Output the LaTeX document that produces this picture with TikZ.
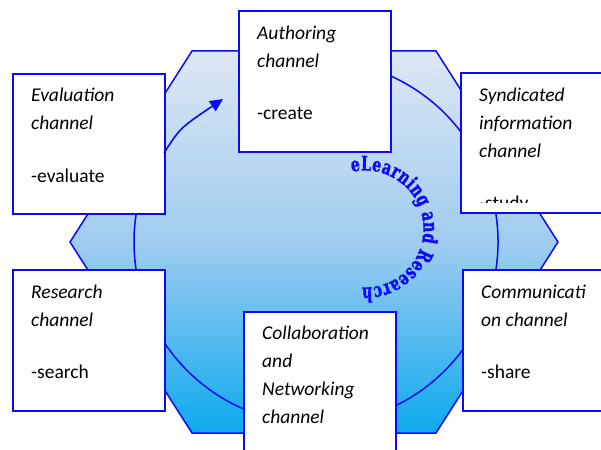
\documentclass[tikz,border=0pt]{standalone}
\usepackage{fontspec}
\setmainfont{Carlito}
\newfontfamily\ringfont{DejaVu Serif}[FakeStretch=0.7, BoldFeatures={FakeBold=1.5}]
\usetikzlibrary{arrows.meta,decorations.text}
\definecolor{hexTop}{RGB}{221,231,243}
\definecolor{hexMid}{RGB}{160,204,240}
\definecolor{hexBot}{RGB}{12,170,238}
\definecolor{edge}{RGB}{10,10,250}
\tikzset{
  chanbox/.style={draw=edge, line width=1.6pt, fill=white, rectangle, inner sep=0pt,
    minimum width=152pt, minimum height=141pt, anchor=north west},
  chantext/.style={anchor=north west, inner sep=0pt, align=left,
    font=\fontsize{19.5}{28}\selectfont},
  ring/.style={draw=edge, line width=1.5pt},
}
\begin{document}
\begin{tikzpicture}[x=1pt,y=1pt]
\useasboundingbox (0,0) rectangle (601,449);
\clip (0,0) rectangle (601,449);

% shaded hexagon backdrop
\path[draw=edge, line width=1.5pt, top color=hexTop, bottom color=hexBot, middle color=hexMid]
  (192,398) -- (436,398) -- (558,207) -- (436,16) -- (192,16) -- (70,207) -- cycle;

% cycle ring (the open part is the arrow)
\draw[ring] (316,207) ++(80:182) arc[start angle=80, end angle=-192, radius=182];

% channel boxes
\node[chanbox] (auth) at (238,439) {};
\node[chanbox, minimum height=140pt] (eval) at (12,376) {};
\node[chanbox, minimum width=160pt, minimum height=140pt] (synd) at (460,377) {};
\node[chanbox] (res) at (12,180) {};
\node[chanbox, minimum height=150pt] (collab) at (243,138) {};
\node[chanbox, minimum width=160pt] (comm) at (462,180) {};

% box texts
\node[chantext] (auth-t) at ([shift={(19,-10)}]auth.north west)
  {\strut\textit{Authoring}\\\textit{channel}\\[24pt]-create};
\node[chantext] (eval-t) at ([shift={(19,-9)}]eval.north west)
  {\strut\textit{Evaluation}\\\textit{channel}\\[25pt]-evaluate};
\begin{scope}
  \clip (460,246) rectangle (601,377);
  \node[chantext] (synd-t) at ([shift={(19,-10)}]synd.north west)
    {\strut\textit{Syndicated}\\\textit{information}\\\textit{channel}\\[24pt]-study};
\end{scope}
\node[chantext] (res-t) at ([shift={(19,-10)}]res.north west)
  {\strut\textit{Research}\\\textit{channel}\\[24pt]-search};
\node[chantext] (collab-t) at ([shift={(19,-9)}]collab.north west)
  {\strut\textit{Collaboration}\\\textit{and}\\\textit{Networking}\\\textit{channel}};
\node[chantext] (comm-t) at ([shift={(19,-10)}]comm.north west)
  {\strut\textit{Communicati}\\\textit{on channel}\\[24pt]-share};

% arrow from evaluation to authoring
\coordinate (arrS) at (164,296);
\coordinate (arrE) at (223,350);
\draw[edge, line width=1.6pt, -{Triangle[length=13pt,width=12pt]}]
  (arrS) .. controls (180,321) .. (arrE);

% curved title
\path[decorate, decoration={text along path, text color=edge,
    text={|\ringfont\bfseries\fontsize{20}{20}\selectfont|eLearning and Research},
    text align=fit to path}]
  (365,220) ++(103:58.5) arc[start angle=103, end angle=-93, radius=58.5];
\end{tikzpicture}
\end{document}
